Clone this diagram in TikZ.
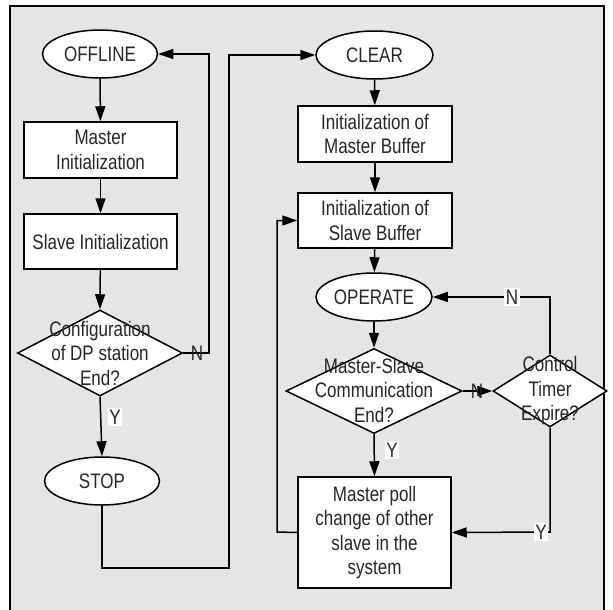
\documentclass[tikz,border=0pt]{standalone}
\usepackage{fontspec}
\setmainfont{Liberation Sans}[FakeStretch=0.81]
\usetikzlibrary{shapes.geometric,arrows.meta}
\begin{document}
\begin{tikzpicture}[x=1pt,y=-1pt,
  every node/.style={font=\fontsize{21}{24.5}\selectfont, text=black!85, align=center, inner sep=0pt},
  base/.style={draw=black, line width=1.5pt, fill=white},
  term/.style={base, ellipse, minimum width=#1, minimum height=48pt},
  proc/.style={base, rectangle, minimum width=153pt},
  flow/.style={line width=1.5pt, -{Triangle[length=15pt,width=10pt]}},
  yn/.style={fill=white, inner sep=1.5pt},
  ynb/.style={inner sep=0pt}]
\useasboundingbox (0,0) rectangle (613,610);
% panel background, open at the bottom
\fill[black!10] (10,6) rectangle (604,625);
\draw[line width=1.2pt] (10,625) -- (10,6) -- (604,6) -- (604,625);

% left column
\node[term=115pt] (offline) at (100,54) {OFFLINE};
\node[proc, minimum height=56pt] (minit) at (100.5,150) {Master\\Initialization};
\node[proc, minimum height=55pt] (sinit) at (100.5,241.5) {Slave Initialization};
\node[base, diamond, minimum width=165pt, minimum height=86pt] (conf) at (100,353) {};
\node (conftext) at (100,353) {Configuration\\of DP station\\End?};
\node[term=115pt] (stop) at (102,481) {STOP};

% right column
\node[term=117pt] (clear) at (374.5,55) {CLEAR};
\node[proc, minimum width=154pt, minimum height=56pt] (mbuf) at (375,134) {Initialization of\\Master Buffer};
\node[proc, minimum width=154pt, minimum height=55pt] (sbuf) at (375,220.5) {Initialization of\\Slave Buffer};
\node[term=116pt] (operate) at (374,297) {OPERATE};
\node[base, diamond, minimum width=176pt, minimum height=85pt] (ms) at (374,391) {};
\node (mstext) at (374,390) {Master-Slave\\Communication\\End?};
\node[base, diamond, minimum width=114pt, minimum height=72pt] (ct) at (550,391) {};
\node (cttext) at (550,391) {Control\\Timer\\Expire?};
\node[proc, minimum height=111pt] (poll) at (374.5,532.5) {Master poll\\change of other\\slave in the\\system};

% turning points
\coordinate (cfR) at (209,353);
\coordinate (cfT) at (209,54);
\coordinate (stB) at (102,568);
\coordinate (jB) at (229,568);
\coordinate (jT) at (229,55);
\coordinate (ctT) at (550,297);
\coordinate (ctB) at (550,532);
\coordinate (lpB) at (277,532);
\coordinate (lpT) at (277,220.5);

% connectors
\draw[flow] (offline) -- (minit);
\draw[flow] (minit) -- (sinit);
\draw[flow] (sinit) -- (conf.north);
\draw[flow] (conf.south) -- (stop.north);
\draw[flow] (conf.east) -- (cfR) -- (cfT) -- (offline.east);
\draw[flow] (stop.south) -- (stB) -- (jB) -- (jT) -- (clear.west);
\draw[flow] (clear) -- (mbuf);
\draw[flow] (mbuf) -- (sbuf);
\draw[flow] (sbuf) -- (operate);
\draw[flow] (operate) -- (ms.north);
\draw[flow] (ms.south) -- (poll.north);
\draw[flow] (ms.east) -- (ct.west);
\draw[flow] (ct.north) -- (ctT) -- (operate.east);
\draw[flow] (ct.south) -- (ctB) -- (poll.east);
\draw[flow] (poll.west) -- (lpB) -- (lpT) -- (sbuf.west);

% branch labels
\node[yn] (y1) at (115,417) {Y};
\node[ynb] (n1) at (197,353) {N};
\node[yn] (y2) at (392,450) {Y};
\node[ynb] (n2) at (477,391) {N};
\node[yn] (n3) at (512,297) {N};
\node[yn] (y3) at (541,532) {Y};
\end{tikzpicture}
\end{document}
